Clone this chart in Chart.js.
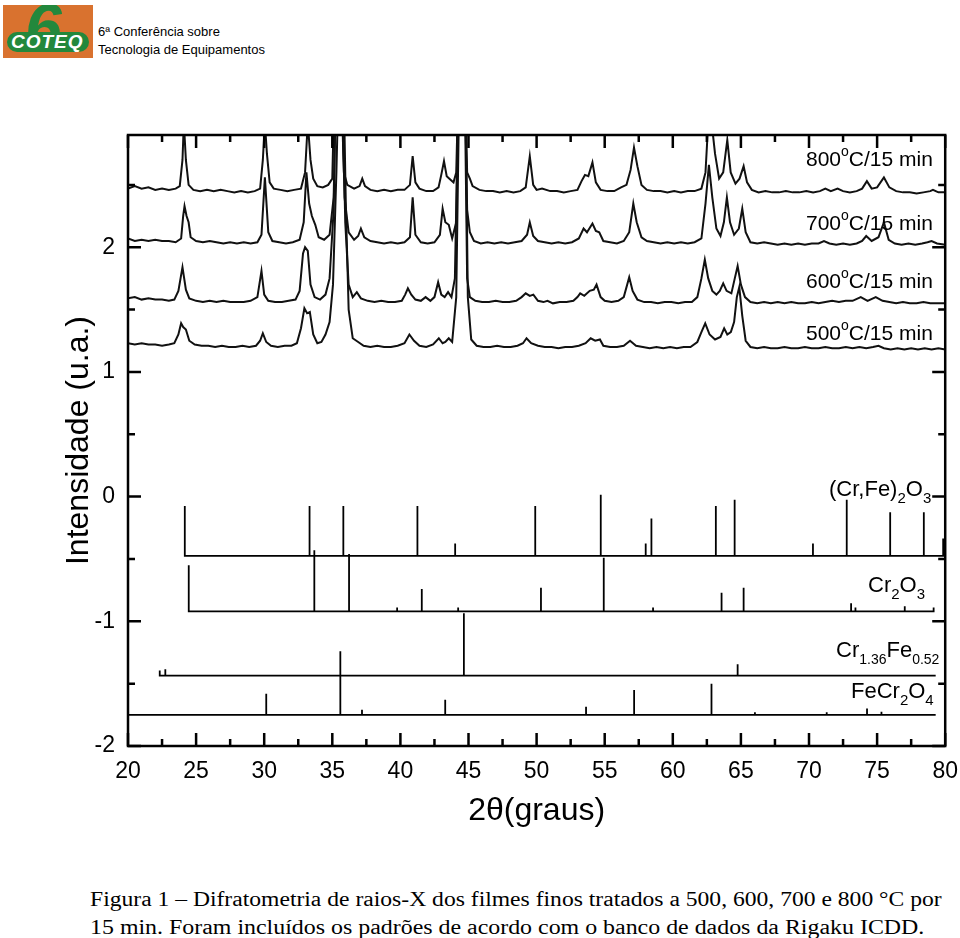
<!DOCTYPE html>
<html>
<head>
<meta charset="utf-8">
<script src="https://cdn.jsdelivr.net/npm/chart.js@4.4.1/dist/chart.umd.min.js"></script>
<style>
  body { margin: 0; width: 960px; height: 938px; background: #fff; position: relative; overflow: hidden; }
  #logo { position: absolute; left: 3px; top: 5px; width: 90px; height: 53px; background: #d9722f; overflow: hidden; }
  #logo .six { position: absolute; left: 22px; top: -16px; font: bold italic 66px Arial, sans-serif; color: #23883c; }
  #logo .band { position: absolute; left: 4px; top: 27px; width: 82px; height: 20px; background: #23883c; border-radius: 10px; }
  #logo .name { position: absolute; left: 8px; top: 26px; font: bold italic 19px Arial, sans-serif; color: #fff; letter-spacing: 1px; }
  .head { position: absolute; left: 98px; font: 13px Arial, "Liberation Sans", sans-serif; color: #000; }
  .cap { position: absolute; left: 90px; font: 20px "Liberation Serif", "Times New Roman", serif; color: #000; white-space: nowrap; transform-origin: left center; }
  #wrap { position: absolute; left: 0; top: 0; width: 960px; height: 860px; }
</style>
</head>
<body>
<div id="logo"><span class="six">6</span><span class="band"></span><span class="name">COTEQ</span></div>
<div class="head" style="top:24px">6ª Conferência sobre</div>
<div class="head" style="top:42px">Tecnologia de Equipamentos</div>
<div id="wrap"><canvas id="xrdChart" width="960" height="860"></canvas></div>
<div class="cap" style="top:888px; transform: scaleX(1.18)">Figura 1 – Difratometria de raios-X dos filmes finos tratados a 500, 600, 700 e 800 °C por</div>
<div class="cap" style="top:916px; transform: scaleX(1.195)">15 min. Foram incluídos os padrões de acordo com o banco de dados da Rigaku ICDD.</div>
<script>
// axis ticks
const xTicks = [20, 25, 30, 35, 40, 45, 50, 55, 60, 65, 70, 75, 80];
const xMinor = [22.5, 27.5, 32.5, 37.5, 42.5, 47.5, 52.5, 57.5, 62.5, 67.5, 72.5, 77.5];
const yTicks = [-2, -1, 0, 1, 2];
const yMinor = [-1.5, -0.5, 0.5, 1.5, 2.5];

// measured diffractograms [2theta, intensity (offset, u.a.)]
const t800 = [[20,2.47],[20.5,2.49],[21,2.47],[21.5,2.48],[22,2.46],[22.5,2.47],[23,2.46],[23.5,2.47],[23.8,2.49],[24.0,2.7],[24.1,3.0],[24.25,2.7],[24.45,2.50],[24.8,2.46],[25.3,2.45],[25.8,2.46],[26.3,2.45],[26.8,2.46],[27.3,2.45],[27.8,2.44],[28.3,2.45],[28.8,2.44],[29.3,2.45],[29.7,2.47],[29.9,2.7],[30.05,3.0],[30.2,2.75],[30.4,2.52],[30.7,2.47],[31.2,2.46],[31.7,2.45],[32.2,2.46],[32.7,2.47],[33.0,2.6],[33.2,3.0],[33.4,2.7],[33.6,2.55],[33.9,2.49],[34.3,2.48],[34.7,2.5],[35.0,2.55],[35.2,3.5],[35.6,3.5],[35.85,2.6],[36.1,2.5],[36.6,2.47],[37.0,2.49],[37.2,2.55],[37.4,2.49],[37.8,2.46],[38.3,2.45],[38.8,2.46],[39.3,2.45],[39.8,2.46],[40.3,2.46],[40.7,2.5],[40.9,2.73],[41.1,2.52],[41.4,2.47],[41.9,2.45],[42.4,2.45],[42.8,2.48],[43.0,2.58],[43.2,2.69],[43.4,2.57],[43.6,2.55],[43.9,2.52],[44.1,2.6],[44.3,3.5],[44.7,3.5],[44.9,2.6],[45.1,2.55],[45.3,2.49],[45.8,2.46],[46.3,2.45],[46.8,2.45],[47.3,2.44],[47.8,2.45],[48.3,2.44],[48.8,2.45],[49.2,2.48],[49.5,2.73],[49.75,2.5],[50.0,2.46],[50.4,2.47],[51.0,2.45],[51.5,2.45],[52.0,2.44],[52.5,2.45],[53.0,2.46],[53.3,2.53],[53.55,2.58],[53.8,2.57],[54.1,2.68],[54.35,2.52],[54.7,2.46],[55.2,2.45],[55.7,2.45],[56.2,2.48],[56.6,2.5],[56.9,2.62],[57.15,2.80],[57.4,2.65],[57.7,2.5],[58.1,2.46],[58.6,2.45],[59.1,2.45],[59.6,2.44],[60.1,2.45],[60.6,2.44],[61.1,2.45],[61.6,2.45],[62.1,2.47],[62.4,2.6],[62.6,3.0],[62.85,3.0],[63.1,2.75],[63.4,2.55],[63.7,2.6],[64.0,2.86],[64.25,2.6],[64.6,2.51],[64.9,2.55],[65.2,2.65],[65.45,2.52],[65.8,2.46],[66.3,2.44],[66.8,2.45],[67.3,2.44],[67.8,2.44],[68.3,2.45],[68.8,2.44],[69.3,2.44],[69.8,2.45],[70.3,2.44],[70.8,2.45],[71.2,2.47],[71.6,2.45],[72.1,2.47],[72.5,2.45],[73.0,2.44],[73.5,2.45],[73.9,2.47],[74.25,2.53],[74.6,2.47],[75.0,2.48],[75.5,2.56],[75.9,2.48],[76.4,2.45],[76.9,2.44],[77.4,2.44],[77.9,2.43],[78.4,2.44],[78.9,2.45],[79.1,2.46],[79.5,2.44],[80,2.44]];
const t700 = [[20,2.07],[20.5,2.05],[21,2.06],[21.5,2.05],[22,2.06],[22.5,2.05],[23,2.05],[23.5,2.04],[23.9,2.07],[24.05,2.25],[24.15,2.33],[24.3,2.25],[24.45,2.2],[24.6,2.08],[25.0,2.05],[25.5,2.04],[26,2.05],[26.5,2.04],[27,2.03],[27.5,2.04],[28,2.03],[28.5,2.04],[29,2.03],[29.5,2.04],[29.8,2.1],[30.05,2.56],[30.3,2.12],[30.6,2.05],[31.1,2.04],[31.6,2.03],[32.1,2.04],[32.6,2.06],[32.9,2.2],[33.1,2.60],[33.3,2.35],[33.5,2.25],[33.75,2.18],[34.0,2.08],[34.4,2.06],[34.8,2.1],[35.1,2.4],[35.3,3.5],[35.65,3.5],[35.9,2.4],[36.2,2.12],[36.6,2.06],[36.9,2.09],[37.1,2.15],[37.35,2.08],[37.8,2.05],[38.3,2.04],[38.8,2.03],[39.3,2.04],[39.8,2.03],[40.3,2.04],[40.7,2.08],[40.9,2.40],[41.1,2.1],[41.5,2.04],[42,2.03],[42.5,2.04],[42.9,2.1],[43.1,2.31],[43.3,2.2],[43.55,2.18],[43.8,2.07],[44.1,2.2],[44.3,3.5],[44.7,3.5],[44.9,2.3],[45.1,2.12],[45.4,2.05],[45.9,2.03],[46.4,2.04],[46.9,2.03],[47.4,2.04],[47.9,2.03],[48.4,2.04],[48.9,2.05],[49.3,2.1],[49.5,2.20],[49.75,2.09],[50.1,2.05],[50.6,2.04],[51.1,2.03],[51.6,2.04],[52.1,2.03],[52.6,2.04],[53.1,2.07],[53.45,2.15],[53.7,2.12],[54.1,2.19],[54.35,2.13],[54.6,2.12],[54.9,2.05],[55.4,2.04],[55.9,2.03],[56.4,2.05],[56.8,2.12],[57.1,2.35],[57.35,2.2],[57.7,2.08],[58.1,2.05],[58.6,2.04],[59.1,2.03],[59.6,2.04],[60.1,2.03],[60.6,2.04],[61.1,2.03],[61.6,2.04],[62.1,2.07],[62.4,2.35],[62.65,2.66],[62.9,2.4],[63.2,2.15],[63.5,2.09],[63.75,2.2],[63.97,2.40],[64.2,2.2],[64.5,2.1],[64.85,2.15],[65.1,2.31],[65.35,2.12],[65.7,2.04],[66.2,2.03],[66.7,2.04],[67.2,2.03],[67.7,2.02],[68.2,2.03],[68.7,2.02],[69.2,2.03],[69.7,2.02],[70.2,2.03],[70.7,2.03],[71.1,2.05],[71.5,2.03],[72,2.02],[72.5,2.03],[73,2.02],[73.5,2.03],[73.9,2.05],[74.2,2.09],[74.6,2.05],[75.1,2.08],[75.5,2.20],[75.85,2.06],[76.3,2.03],[76.8,2.02],[77.3,2.03],[77.8,2.02],[78.3,2.03],[78.7,2.04],[79.0,2.05],[79.4,2.03],[80,2.02]];
const t600 = [[20,1.59],[20.5,1.60],[21,1.58],[21.5,1.59],[22,1.58],[22.5,1.58],[23,1.57],[23.4,1.58],[23.7,1.65],[24.0,1.84],[24.25,1.66],[24.5,1.59],[25,1.57],[25.5,1.56],[26,1.57],[26.5,1.56],[27,1.57],[27.5,1.56],[28,1.56],[28.5,1.56],[29,1.57],[29.5,1.6],[29.8,1.81],[30.0,1.62],[30.3,1.57],[30.8,1.56],[31.3,1.56],[31.8,1.57],[32.3,1.58],[32.6,1.65],[32.85,1.95],[33.0,2.00],[33.2,1.97],[33.4,1.7],[33.7,1.6],[34.1,1.58],[34.5,1.62],[34.8,1.75],[35.1,2.3],[35.3,3.5],[35.7,3.5],[35.95,2.2],[36.2,1.7],[36.5,1.6],[36.8,1.64],[37.1,1.59],[37.6,1.57],[38.1,1.56],[38.6,1.57],[39.1,1.56],[39.6,1.56],[40.1,1.57],[40.35,1.62],[40.55,1.67],[40.8,1.62],[41.1,1.58],[41.5,1.57],[41.85,1.60],[42.2,1.57],[42.5,1.6],[42.77,1.72],[43.0,1.62],[43.25,1.6],[43.5,1.64],[43.75,1.6],[44.0,1.75],[44.3,3.5],[44.7,3.5],[44.9,1.75],[45.1,1.6],[45.5,1.57],[46,1.56],[46.5,1.56],[47,1.57],[47.5,1.56],[48,1.56],[48.5,1.57],[48.9,1.6],[49.2,1.63],[49.5,1.61],[49.76,1.62],[50.1,1.57],[50.5,1.56],[50.8,1.57],[51.2,1.55],[51.7,1.56],[52.2,1.56],[52.7,1.57],[53.0,1.6],[53.2,1.63],[53.5,1.61],[53.9,1.65],[54.2,1.66],[54.4,1.70],[54.7,1.6],[55.0,1.57],[55.5,1.56],[56.0,1.57],[56.4,1.6],[56.8,1.76],[57.05,1.65],[57.4,1.58],[57.9,1.56],[58.4,1.56],[58.9,1.55],[59.4,1.56],[59.9,1.56],[60.4,1.55],[60.9,1.56],[61.4,1.56],[61.8,1.6],[62.1,1.75],[62.35,1.90],[62.6,1.75],[62.9,1.65],[63.2,1.62],[63.45,1.65],[63.7,1.71],[63.95,1.65],[64.3,1.63],[64.55,1.75],[64.76,1.85],[65.0,1.7],[65.3,1.6],[65.7,1.56],[66.2,1.55],[66.7,1.56],[67.2,1.55],[67.7,1.56],[68.2,1.55],[68.7,1.56],[69.2,1.55],[69.7,1.55],[70.2,1.56],[70.7,1.55],[71.2,1.56],[71.7,1.57],[72.2,1.56],[72.7,1.57],[73.2,1.57],[73.8,1.60],[74.3,1.57],[74.9,1.60],[75.4,1.57],[75.9,1.56],[76.4,1.55],[76.9,1.56],[77.4,1.55],[77.9,1.55],[78.4,1.56],[78.9,1.55],[79.4,1.55],[80,1.55]];
const t500 = [[20,1.23],[20.5,1.22],[21,1.23],[21.5,1.22],[22,1.22],[22.5,1.21],[23,1.22],[23.4,1.23],[23.7,1.3],[23.9,1.39],[24.05,1.36],[24.25,1.34],[24.5,1.25],[24.9,1.22],[25.4,1.21],[25.9,1.21],[26.4,1.2],[26.9,1.21],[27.4,1.2],[27.9,1.2],[28.4,1.21],[28.9,1.2],[29.4,1.21],[29.7,1.25],[29.9,1.31],[30.15,1.24],[30.5,1.21],[31,1.2],[31.5,1.21],[32,1.21],[32.4,1.23],[32.7,1.35],[32.95,1.51],[33.15,1.47],[33.35,1.48],[33.6,1.3],[33.9,1.23],[34.2,1.24],[34.5,1.3],[34.8,1.4],[35.05,1.7],[35.3,2.6],[35.5,3.5],[35.8,3.5],[36.0,2.3],[36.2,1.5],[36.5,1.27],[36.9,1.24],[37.3,1.21],[37.8,1.2],[38.3,1.21],[38.8,1.2],[39.3,1.2],[39.8,1.21],[40.3,1.23],[40.66,1.30],[41.0,1.25],[41.4,1.21],[41.9,1.2],[42.4,1.22],[42.82,1.27],[43.1,1.23],[43.3,1.24],[43.55,1.27],[43.8,1.24],[44.1,1.6],[44.35,3.5],[44.75,3.5],[44.95,1.6],[45.2,1.26],[45.6,1.21],[46.1,1.2],[46.6,1.2],[47.1,1.21],[47.6,1.2],[48.1,1.2],[48.6,1.21],[49.0,1.23],[49.26,1.27],[49.6,1.23],[50.1,1.21],[50.6,1.2],[51.1,1.2],[51.6,1.19],[52.1,1.2],[52.6,1.2],[53.1,1.21],[53.6,1.23],[53.97,1.27],[54.3,1.25],[54.65,1.26],[54.9,1.21],[55.4,1.2],[55.9,1.2],[56.4,1.21],[56.86,1.25],[57.3,1.21],[57.8,1.2],[58.3,1.19],[58.8,1.2],[59.3,1.19],[59.8,1.2],[60.3,1.19],[60.8,1.2],[61.3,1.2],[61.8,1.24],[62.1,1.32],[62.38,1.39],[62.7,1.3],[63.1,1.26],[63.5,1.28],[63.77,1.35],[64.0,1.3],[64.26,1.32],[64.5,1.4],[64.7,1.6],[64.88,1.68],[65.1,1.45],[65.35,1.25],[65.7,1.2],[66.2,1.19],[66.7,1.2],[67.2,1.19],[67.7,1.19],[68.2,1.2],[68.7,1.19],[69.2,1.19],[69.7,1.2],[70.2,1.19],[70.7,1.19],[71.2,1.2],[71.7,1.19],[72.2,1.19],[72.7,1.2],[73.2,1.19],[73.7,1.2],[74.2,1.19],[74.7,1.2],[75.1,1.21],[75.5,1.19],[76,1.18],[76.5,1.19],[77,1.18],[77.5,1.19],[78,1.18],[78.5,1.19],[79,1.18],[79.5,1.19],[80,1.18]];

// ICDD reference patterns: peak positions, relative heights, baseline offset, baseline span
const cfPos = [24.17, 33.33, 35.81, 41.25, 44.02, 49.90, 54.71, 58.01, 58.43, 63.16, 64.54, 70.29, 72.77, 75.96, 78.43, 79.85];
const cfInt = [0.40, 0.40, 0.40, 0.40, 0.10, 0.40, 0.49, 0.10, 0.30, 0.40, 0.45, 0.10, 0.45, 0.35, 0.35, 0.14];
const cfBase = -0.476, cfSpan = [24.17, 80];

const crPos = [24.46, 33.68, 36.23, 39.76, 41.57, 44.24, 50.32, 54.93, 58.55, 63.58, 65.20, 73.09, 73.41, 77.03, 79.15];
const crInt = [0.37, 0.49, 0.46, 0.03, 0.18, 0.03, 0.19, 0.43, 0.03, 0.15, 0.19, 0.065, 0.03, 0.04, 0.03];
const crBase = -0.92, crSpan = [24.46, 79.15];

const cfeFePos = [22.33, 22.74, 44.66, 64.76];
const cfeFeInt = [0.04, 0.05, 0.50, 0.09];
const cfeFeBase = -1.435, cfeFeSpan = [22.33, 79.3];

const spPos = [30.15, 35.59, 37.18, 43.29, 53.63, 57.16, 62.84, 66.03, 71.3, 74.26, 75.32];
const spInt = [0.17, 0.51, 0.04, 0.12, 0.065, 0.20, 0.25, 0.02, 0.02, 0.05, 0.025];
const spBase = -1.75, spSpan = [20, 79.3];

function toPoints(pairs) {
  return pairs.map(p => ({ x: p[0], y: p[1] }));
}

// baseline with vertical sticks, drawn as one polyline
function stickLine(pos, inten, base, span) {
  const pts = [{ x: span[0], y: base }];
  pos.forEach((p, i) => {
    pts.push({ x: p, y: base }, { x: p, y: base + inten[i] }, { x: p, y: base });
  });
  pts.push({ x: span[1], y: base });
  return pts;
}

function traceSet(label, pairs) {
  return { label: label, data: toPoints(pairs), borderColor: '#111', borderWidth: 2, pointRadius: 0, tension: 0 };
}
function stickSet(label, pts) {
  return { label: label, data: pts, borderColor: '#000', borderWidth: 1.8, pointRadius: 0, tension: 0 };
}

// draws a label made of normal / sub / sup pieces
function richText(ctx, x, y, parts, big, small) {
  let cx = x;
  parts.forEach(p => {
    const size = p[1] ? small : big;
    ctx.font = size + 'px Arial, "Liberation Sans", sans-serif';
    const dy = p[1] === 'sub' ? 7 : (p[1] === 'sup' ? -10 : 0);
    ctx.fillText(p[0], cx, y + dy);
    cx += ctx.measureText(p[0]).width;
  });
}

const framePlugin = {
  id: 'frame',
  afterDatasetsDraw(chart) {
    const { ctx, chartArea: a, scales } = chart;
    ctx.save();
    ctx.strokeStyle = '#000';
    ctx.lineWidth = 2.5;
    ctx.strokeRect(a.left, a.top, a.right - a.left, a.bottom - a.top);
    const tick = (vals, len) => {
      vals.forEach(v => {
        const px = scales.x.getPixelForValue(v);
        ctx.beginPath();
        ctx.moveTo(px, a.bottom); ctx.lineTo(px, a.bottom - len);
        ctx.moveTo(px, a.top); ctx.lineTo(px, a.top + len);
        ctx.stroke();
      });
    };
    const ytick = (vals, len) => {
      vals.forEach(v => {
        const py = scales.y.getPixelForValue(v);
        ctx.beginPath();
        ctx.moveTo(a.left, py); ctx.lineTo(a.left + len, py);
        ctx.moveTo(a.right, py); ctx.lineTo(a.right - len, py);
        ctx.stroke();
      });
    };
    tick(xTicks, 13); tick(xMinor, 7);
    ytick(yTicks, 13); ytick(yMinor, 7);
    ctx.restore();
  },
  afterDraw(chart) {
    const ctx = chart.ctx;
    ctx.save();
    ctx.fillStyle = '#000';
    ctx.textBaseline = 'alphabetic';
    richText(ctx, 806, 166, [['800'], ['o', 'sup'], ['C/15 min']], 21, 14);
    richText(ctx, 806, 230, [['700'], ['o', 'sup'], ['C/15 min']], 21, 14);
    richText(ctx, 806, 288, [['600'], ['o', 'sup'], ['C/15 min']], 21, 14);
    richText(ctx, 806, 340, [['500'], ['o', 'sup'], ['C/15 min']], 21, 14);
    richText(ctx, 829, 496, [['(Cr,Fe)'], ['2', 'sub'], ['O'], ['3', 'sub']], 22, 15);
    richText(ctx, 868, 592, [['Cr'], ['2', 'sub'], ['O'], ['3', 'sub']], 22, 15);
    richText(ctx, 836, 657, [['Cr'], ['1.36', 'sub'], ['Fe'], ['0.52', 'sub']], 22, 14);
    richText(ctx, 851, 698, [['FeCr'], ['2', 'sub'], ['O'], ['4', 'sub']], 22, 15);
    ctx.restore();
  }
};

const ctx = document.getElementById('xrdChart').getContext('2d');
Chart.defaults.color = '#000';
Chart.defaults.font.family = 'Arial, "Liberation Sans", sans-serif';

new Chart(ctx, {
  type: 'line',
  data: {
    datasets: [
      traceSet('800', t800),
      traceSet('700', t700),
      traceSet('600', t600),
      traceSet('500', t500),
      stickSet('(Cr,Fe)2O3', stickLine(cfPos, cfInt, cfBase, cfSpan)),
      stickSet('Cr2O3', stickLine(crPos, crInt, crBase, crSpan)),
      stickSet('Cr1.36Fe0.52', stickLine(cfeFePos, cfeFeInt, cfeFeBase, cfeFeSpan)),
      stickSet('FeCr2O4', stickLine(spPos, spInt, spBase, spSpan))
    ]
  },
  options: {
    responsive: false,
    animation: false,
    layout: { padding: { top: 135, right: 5, bottom: 33, left: 63 } },
    plugins: {
      legend: { display: false },
      tooltip: { enabled: false }
    },
    scales: {
      x: {
        type: 'linear',
        min: 20,
        max: 80,
        afterBuildTicks: s => { s.ticks = xTicks.map(v => ({ value: v })); },
        afterFit: s => { s.height = 81; },
        grid: { display: false, drawTicks: true, tickLength: 10 },
        border: { display: false },
        ticks: { font: { size: 23 }, padding: 2, maxRotation: 0 },
        title: { display: true, text: '2θ(graus)', font: { size: 32, lineHeight: 1 }, padding: 0 }
      },
      y: {
        min: -2,
        max: 2.9,
        afterBuildTicks: s => { s.ticks = yTicks.map(v => ({ value: v })); },
        afterFit: s => { s.width = 65; },
        grid: { display: false, drawTicks: false },
        border: { display: false },
        ticks: { font: { size: 23 }, padding: 13 },
        title: { display: true, text: 'Intensidade (u.a.)', font: { size: 32, lineHeight: 1 }, padding: 0 }
      }
    }
  },
  plugins: [framePlugin]
});
</script>
</body>
</html>
